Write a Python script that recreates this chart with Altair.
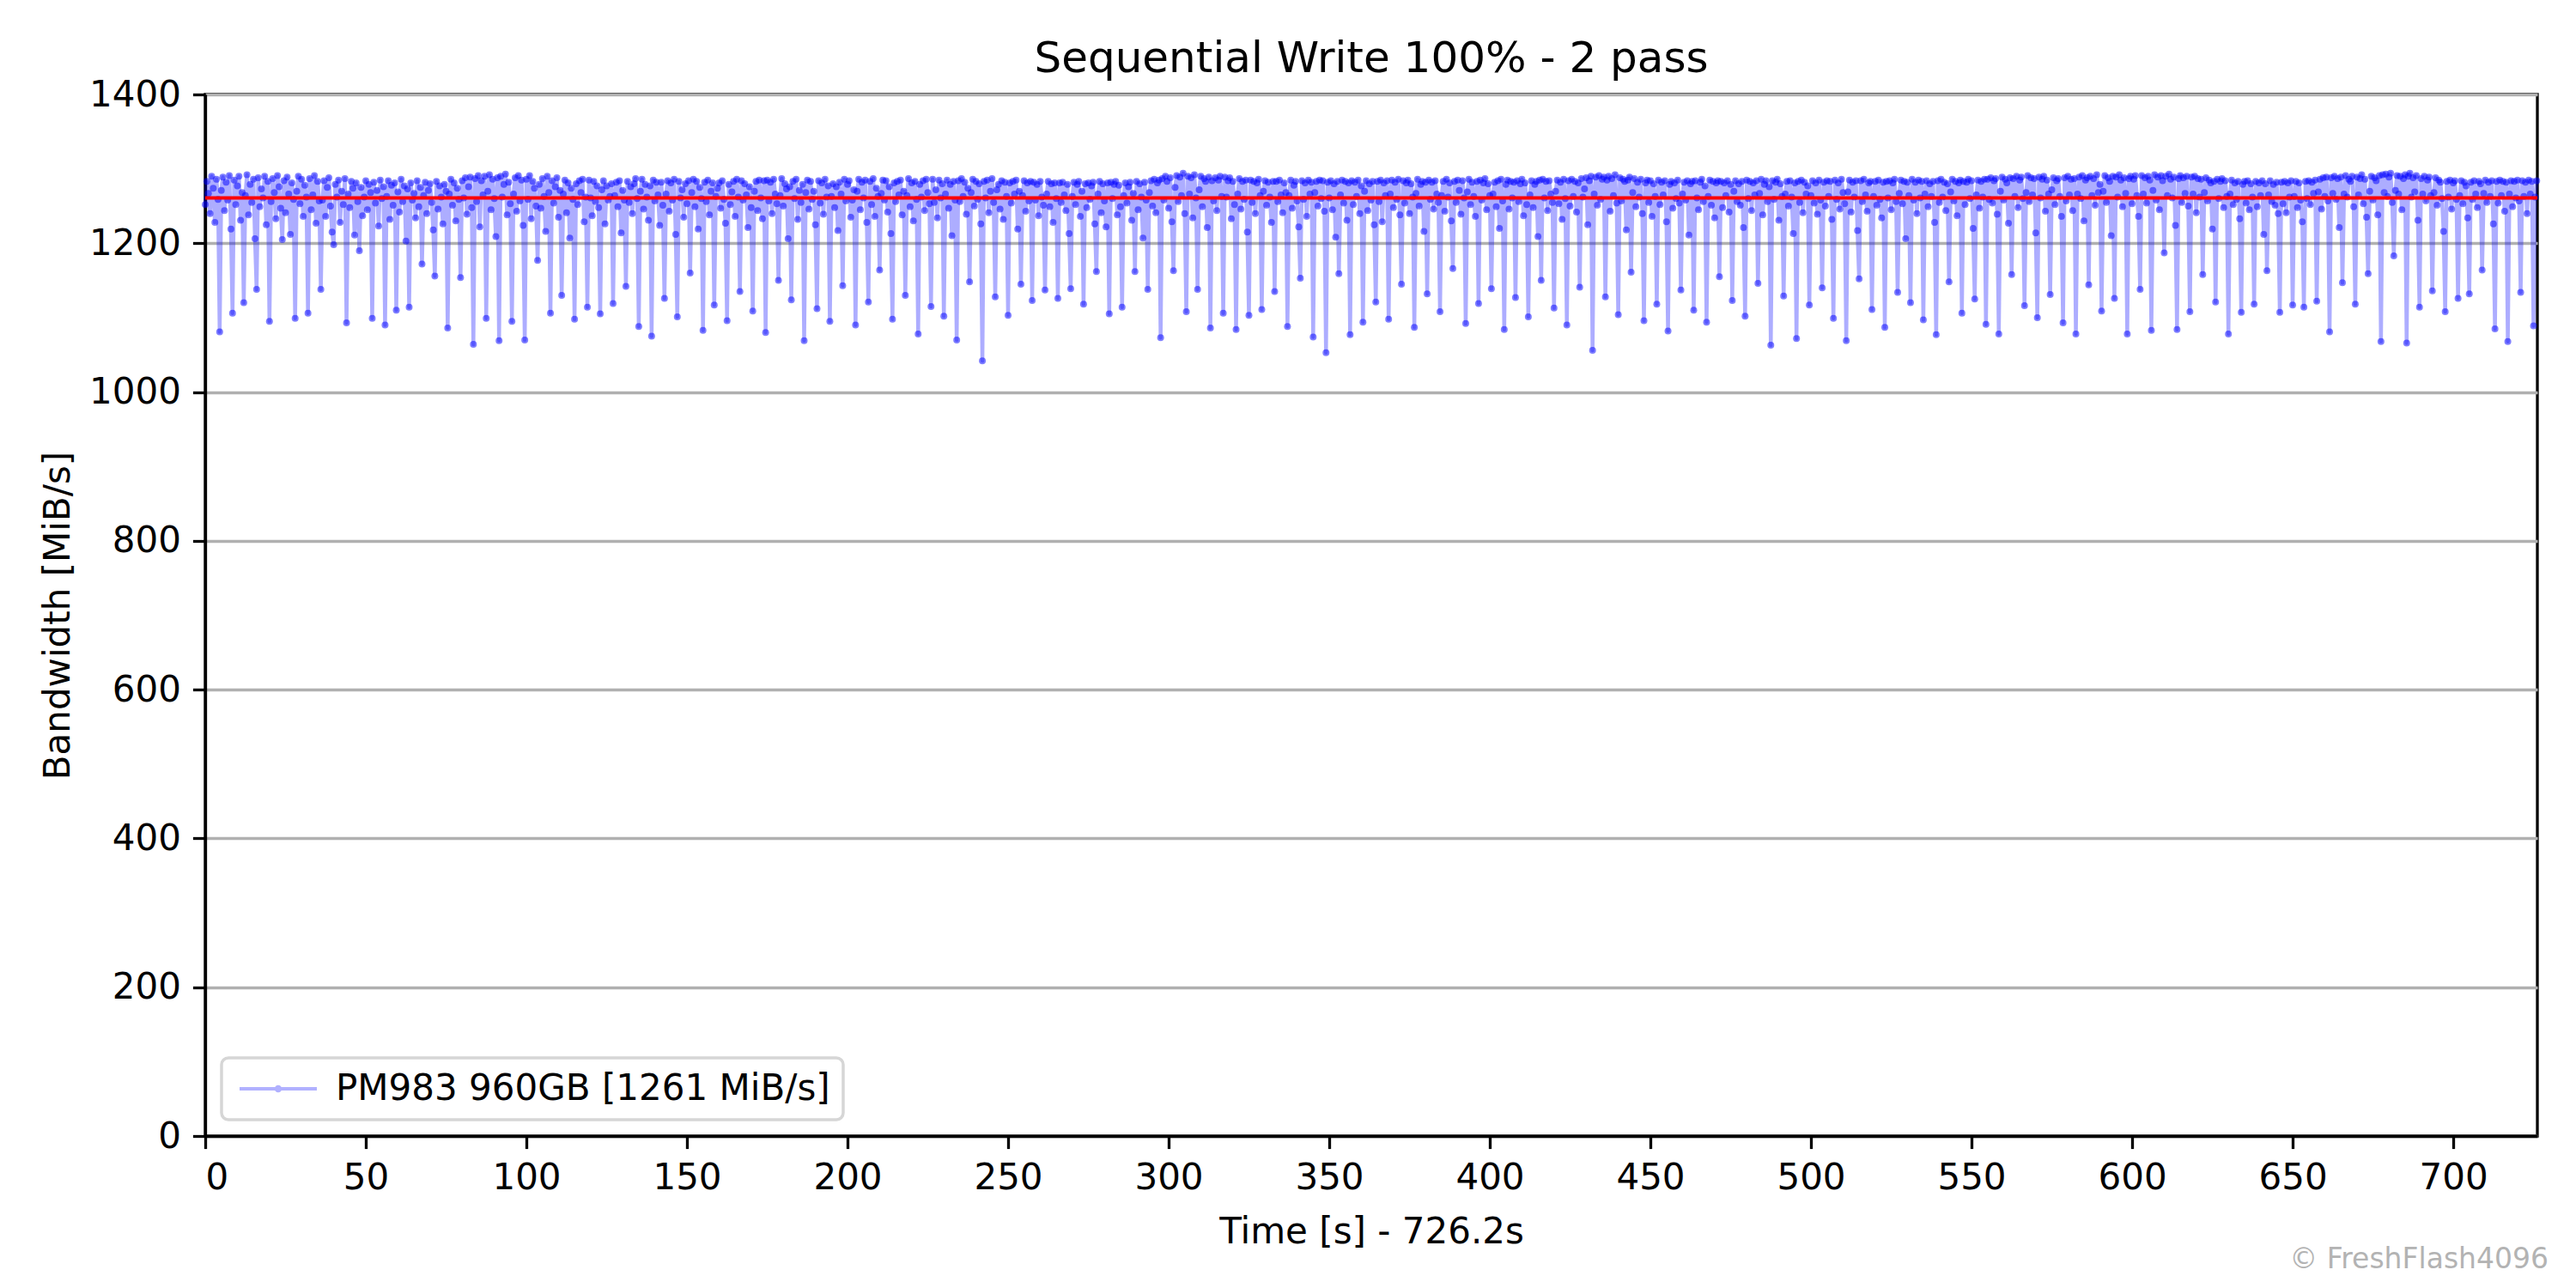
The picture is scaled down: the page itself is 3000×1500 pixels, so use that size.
import altair as alt
import pandas as pd

FONT = "DejaVu Sans"

title_text = "Sequential Write 100% - 2 pass"
x_title = "Time [s] - 726.2s"
y_title = "Bandwidth [MiB/s]"
series_name = "PM983 960GB [1261 MiB/s]"
watermark_text = "\u00a9 FreshFlash4096"
avg_bw = 1261
x_max = 726.2
sample_interval_s = 0.5
x_ticks = [0, 50, 100, 150, 200, 250, 300, 350, 400, 450, 500, 550, 600, 650, 700]
y_ticks = [0, 200, 400, 600, 800, 1000, 1200, 1400]

# bandwidth samples (MiB/s), one every 0.5 s
bw_000_004 = [1252, 1283, 1267, 1240, 1290, 1274, 1228, 1286, 1259]

bw_004_131 = [
    1081, 1271, 1289, 1244, 1282, 1258, 1291, 1219,
    1106, 1285, 1252, 1277, 1290, 1231, 1268,
    1120, 1264, 1292, 1238, 1279, 1255, 1286, 1206,
    1138, 1288, 1249, 1273, 1261, 1290, 1225, 1283,
    1095, 1256, 1287, 1268, 1233, 1291, 1276, 1247,
    1205, 1284, 1241, 1289, 1266, 1212, 1281, 1259,
    1099, 1270, 1290, 1253, 1286, 1236, 1278, 1262,
    1106, 1287, 1245, 1265, 1291, 1227, 1283, 1257,
    1138, 1258, 1284, 1236, 1275, 1288, 1250, 1215,
    1198, 1279, 1262, 1285, 1228, 1270, 1252, 1287,
    1093, 1266, 1248, 1283, 1274, 1211, 1281, 1256,
    1190, 1275, 1237, 1262, 1284, 1245, 1279, 1268,
    1099, 1282, 1254, 1271, 1223, 1285, 1260, 1276,
    1090, 1263, 1284, 1232, 1278, 1251, 1281,
    1110, 1269, 1242, 1286, 1256, 1277, 1203, 1273,
    1114, 1281, 1258, 1267, 1234, 1284, 1249, 1275,
    1172, 1264, 1282, 1240, 1271, 1280, 1255, 1218,
    1156, 1283, 1246, 1277, 1262, 1226, 1279, 1270,
    1086, 1266, 1286, 1251, 1281, 1230, 1274, 1259,
    1154, 1284, 1261, 1288, 1239, 1276, 1289, 1248,
    1064, 1287, 1256, 1291, 1222, 1284, 1265, 1290,
    1099, 1270, 1292, 1245, 1286, 1260, 1209, 1288,
    1069, 1290, 1262, 1279, 1293, 1238, 1282, 1253,
    1095, 1266, 1288, 1243, 1291, 1257, 1285, 1224,
    1070, 1286, 1259, 1291, 1233, 1283, 1274, 1250,
    1177, 1279, 1247, 1287, 1263, 1216, 1290, 1268,
    1106, 1284, 1254, 1276, 1288, 1235, 1271,
    1130, 1266, 1285, 1241, 1281, 1207, 1274, 1259,
    1098, 1280, 1252, 1284, 1268, 1286, 1229, 1262,
    1114, 1285, 1261, 1237, 1283, 1256, 1277, 1248,
    1105, 1272, 1284, 1226, 1277, 1258, 1263, 1280,
    1119, 1264, 1282, 1249, 1284, 1214, 1271, 1258,
]

bw_131_234 = [
    1142, 1283, 1255, 1276, 1240, 1280, 1287, 1260,
    1088, 1270, 1286, 1246, 1279, 1262, 1231, 1277,
    1075, 1285, 1257, 1282, 1265, 1224, 1282, 1251,
    1126, 1266, 1284, 1243, 1281, 1258, 1286, 1212,
    1101, 1283, 1261, 1272, 1235, 1280, 1253, 1284,
    1160, 1268, 1286, 1249, 1283, 1219, 1275, 1260,
    1083, 1282, 1256, 1285, 1238, 1270, 1281,
    1117, 1263, 1274, 1281, 1247, 1284, 1259, 1227,
    1096, 1279, 1252, 1269, 1283, 1236, 1286, 1262,
    1135, 1284, 1258, 1280, 1265, 1221, 1276, 1248,
    1109, 1270, 1283, 1244, 1285, 1261, 1233, 1284,
    1080, 1285, 1257, 1282, 1240, 1286, 1266, 1253,
    1150, 1264, 1287, 1250, 1280, 1273, 1206, 1276,
    1124, 1283, 1260, 1286, 1232, 1271, 1255, 1279,
    1069, 1268, 1285, 1246, 1283, 1259, 1270, 1225,
    1112, 1284, 1254, 1281, 1239, 1286, 1262, 1277,
    1095, 1263, 1280, 1248, 1276, 1217, 1282, 1266,
    1143, 1286, 1257, 1279, 1284, 1235, 1258, 1272,
    1090, 1270, 1286, 1245, 1282, 1261, 1285, 1228,
    1121, 1283, 1252, 1287, 1236, 1274, 1263,
    1164, 1267, 1285, 1258, 1284, 1242, 1276, 1213,
    1098, 1281, 1256, 1283, 1265, 1285, 1238, 1270,
    1130, 1264, 1287, 1249, 1281, 1230, 1283, 1259,
    1078, 1279, 1262, 1284, 1244, 1286, 1268, 1253,
    1115, 1286, 1255, 1272, 1234, 1285, 1261, 1280,
    1102, 1266, 1285, 1247, 1279, 1210, 1283, 1258,
]

bw_234_365 = [
    1070, 1284, 1256, 1287, 1263, 1282, 1239, 1274,
    1148, 1268, 1286, 1250, 1283, 1259, 1280, 1226,
    1042, 1283, 1261, 1285, 1241, 1270, 1287, 1255,
    1128, 1272, 1279, 1246, 1284, 1232, 1282, 1263,
    1103, 1281, 1254, 1283, 1266, 1285, 1219, 1270,
    1145, 1264, 1284, 1243, 1281, 1257, 1283,
    1123, 1282, 1258, 1279, 1237, 1283, 1262, 1251,
    1137, 1266, 1283, 1249, 1280, 1228, 1281, 1260,
    1126, 1281, 1255, 1282, 1265, 1244, 1279, 1213,
    1139, 1263, 1282, 1252, 1279, 1283, 1236, 1270,
    1118, 1280, 1248, 1281, 1259, 1277, 1282, 1226,
    1162, 1266, 1283, 1241, 1280, 1257, 1222, 1281,
    1105, 1282, 1260, 1279, 1283, 1238, 1278, 1249,
    1114, 1264, 1281, 1254, 1276, 1282, 1231, 1267,
    1162, 1283, 1245, 1280, 1262, 1207, 1282, 1258,
    1138, 1268, 1284, 1250, 1286, 1241, 1281, 1285,
    1073, 1287, 1258, 1290, 1283, 1247, 1288, 1229,
    1163, 1275, 1291, 1256, 1289, 1264, 1294, 1240,
    1108, 1290, 1266, 1288, 1234, 1292, 1261,
    1138, 1272, 1290, 1249, 1287, 1283, 1221, 1289,
    1086, 1284, 1257, 1288, 1244, 1285, 1290, 1263,
    1106, 1289, 1262, 1284, 1288, 1233, 1283, 1252,
    1084, 1266, 1287, 1246, 1283, 1259, 1285, 1215,
    1103, 1285, 1255, 1283, 1240, 1281, 1286, 1264,
    1111, 1270, 1284, 1251, 1282, 1262, 1228, 1283,
    1135, 1283, 1256, 1285, 1265, 1241, 1281, 1268,
    1088, 1264, 1285, 1247, 1278, 1283, 1257, 1222,
    1153, 1284, 1259, 1281, 1236, 1285, 1266, 1282,
    1074, 1268, 1283, 1250, 1285, 1260, 1284, 1243,
    1053, 1282, 1261, 1284, 1245, 1280, 1208, 1283,
    1159, 1265, 1285, 1254, 1283, 1231, 1281,
    1077, 1284, 1252, 1282, 1263, 1285, 1240, 1277,
    1094, 1270, 1284, 1244, 1280, 1258, 1283, 1225,
]

bw_365_487 = [
    1121, 1283, 1256, 1285, 1229, 1281, 1264, 1284,
    1098, 1266, 1285, 1248, 1282, 1259, 1286, 1238,
    1145, 1284, 1254, 1281, 1285, 1240, 1280, 1262,
    1087, 1267, 1286, 1250, 1279, 1283, 1216, 1282,
    1132, 1285, 1259, 1282, 1246, 1284, 1266, 1255,
    1108, 1264, 1283, 1243, 1286, 1262, 1281, 1230,
    1166, 1283, 1255, 1285, 1271, 1239, 1284, 1261,
    1092, 1269, 1286, 1252, 1282, 1263, 1236, 1283,
    1119, 1285, 1258, 1281, 1287, 1245, 1280, 1264,
    1139, 1266, 1282, 1249, 1284, 1220, 1286, 1257,
    1084, 1279, 1285, 1246, 1283, 1261, 1282,
    1127, 1284, 1256, 1280, 1286, 1237, 1281, 1252,
    1101, 1265, 1284, 1248, 1279, 1283, 1209, 1285,
    1150, 1286, 1261, 1283, 1244, 1284, 1266, 1255,
    1113, 1270, 1285, 1253, 1282, 1232, 1286, 1260,
    1090, 1284, 1250, 1286, 1263, 1283, 1242, 1281,
    1141, 1287, 1262, 1273, 1288, 1225, 1284, 1290,
    1056, 1266, 1289, 1251, 1291, 1259, 1286, 1289,
    1128, 1285, 1290, 1243, 1287, 1264, 1292, 1254,
    1104, 1288, 1257, 1286, 1283, 1218, 1285, 1289,
    1161, 1268, 1287, 1249, 1282, 1262, 1286, 1240,
    1096, 1281, 1285, 1255, 1284, 1236, 1280, 1263,
    1118, 1285, 1252, 1282, 1265, 1284, 1229,
    1082, 1279, 1283, 1247, 1281, 1260, 1285, 1254,
    1137, 1266, 1282, 1258, 1284, 1211, 1280, 1283,
    1110, 1284, 1261, 1245, 1282, 1286, 1256, 1277,
    1094, 1263, 1285, 1251, 1283, 1234, 1281, 1284,
    1155, 1283, 1248, 1281, 1264, 1284, 1242, 1279,
    1123, 1270, 1284, 1256, 1280, 1251, 1283, 1221,
    1102, 1285, 1260, 1283, 1244, 1281, 1265, 1284,
    1146, 1267, 1286, 1238, 1279, 1284, 1256, 1276,
]

bw_487_606 = [
    1063, 1284, 1259, 1282, 1286, 1231, 1280, 1263,
    1129, 1266, 1283, 1250, 1284, 1262, 1213, 1281,
    1072, 1283, 1255, 1285, 1241, 1282, 1266, 1277,
    1117, 1264, 1284, 1254, 1281, 1239, 1285, 1258,
    1140, 1282, 1250, 1284, 1263, 1283, 1232,
    1099, 1285, 1259, 1281, 1246, 1286, 1268, 1253,
    1069, 1269, 1285, 1242, 1282, 1262, 1284, 1217,
    1152, 1284, 1256, 1286, 1265, 1243, 1281, 1283,
    1111, 1263, 1283, 1251, 1285, 1259, 1234, 1282,
    1087, 1283, 1261, 1284, 1245, 1281, 1286, 1256,
    1134, 1267, 1285, 1253, 1283, 1206, 1282, 1264,
    1120, 1286, 1258, 1282, 1240, 1285, 1261, 1283,
    1097, 1266, 1284, 1249, 1280, 1263, 1283, 1228,
    1077, 1284, 1255, 1286, 1262, 1282, 1244, 1280,
    1148, 1269, 1286, 1257, 1283, 1237, 1281, 1285,
    1106, 1283, 1252, 1282, 1286, 1260, 1284, 1220,
    1125, 1265, 1285, 1247, 1283, 1262, 1286,
    1091, 1286, 1259, 1288, 1254, 1284, 1287, 1239,
    1078, 1270, 1289, 1258, 1286, 1281, 1227, 1288,
    1158, 1287, 1263, 1290, 1248, 1285, 1289, 1260,
    1116, 1268, 1291, 1256, 1288, 1265, 1287, 1214,
    1100, 1289, 1261, 1286, 1290, 1243, 1285, 1266,
    1131, 1272, 1288, 1252, 1284, 1287, 1263, 1236,
    1093, 1288, 1257, 1290, 1265, 1286, 1244, 1287,
    1078, 1266, 1289, 1260, 1291, 1230, 1285, 1288,
    1144, 1290, 1264, 1287, 1251, 1292, 1268, 1279,
    1109, 1270, 1291, 1255, 1288, 1283, 1210, 1290,
    1126, 1289, 1262, 1292, 1285, 1249, 1288, 1267,
    1078, 1287, 1290, 1253, 1286, 1291, 1264, 1236,
    1138, 1291, 1266, 1288, 1254, 1290, 1285,
]

bw_606_726 = [
    1083, 1271, 1292, 1258, 1289, 1245, 1291, 1284,
    1187, 1290, 1264, 1293, 1286, 1261, 1289, 1224,
    1084, 1287, 1291, 1255, 1288, 1267, 1290, 1250,
    1108, 1289, 1266, 1290, 1241, 1287, 1262, 1286,
    1158, 1268, 1288, 1257, 1285, 1281, 1219, 1283,
    1121, 1286, 1260, 1283, 1287, 1248, 1284, 1263,
    1078, 1266, 1285, 1252, 1281, 1259, 1283, 1233,
    1107, 1279, 1283, 1254, 1284, 1245, 1280, 1262,
    1118, 1283, 1249, 1281, 1264, 1284, 1212, 1280,
    1163, 1265, 1284, 1256, 1279, 1251, 1282, 1240,
    1107, 1282, 1253, 1283, 1241, 1281, 1262, 1284,
    1117, 1263, 1283, 1248, 1281, 1258, 1229,
    1114, 1283, 1260, 1284, 1252, 1282, 1267, 1285,
    1122, 1269, 1286, 1246, 1288, 1263, 1289, 1257,
    1081, 1288, 1267, 1290, 1259, 1287, 1221, 1289,
    1147, 1266, 1291, 1262, 1286, 1283, 1290, 1249,
    1118, 1289, 1265, 1287, 1292, 1253, 1286, 1235,
    1159, 1270, 1290, 1258, 1288, 1284, 1238, 1291,
    1068, 1292, 1268, 1293, 1263, 1289, 1294, 1255,
    1183, 1271, 1291, 1266, 1290, 1245, 1287, 1292,
    1066, 1290, 1294, 1262, 1288, 1269, 1291, 1231,
    1114, 1287, 1266, 1290, 1257, 1285, 1289, 1264,
    1136, 1268, 1288, 1251, 1285, 1282, 1260, 1216,
    1108, 1283, 1262, 1285, 1246, 1281, 1284, 1259,
    1126, 1264, 1284, 1253, 1282, 1277, 1234,
    1132, 1282, 1259, 1284, 1266, 1248, 1283, 1280,
    1164, 1267, 1285, 1255, 1282, 1263, 1284, 1226,
    1085, 1283, 1254, 1285, 1264, 1283, 1243, 1282,
    1068, 1266, 1284, 1249, 1283, 1261, 1285, 1257,
    1134, 1284, 1263, 1282, 1240, 1285, 1266, 1283,
    1089, 1262, 1284,
]

bandwidth = (bw_000_004 + bw_004_131 + bw_131_234 + bw_234_365
             + bw_365_487 + bw_487_606 + bw_606_726)
times = [i * sample_interval_s for i in range(len(bandwidth))]

df = pd.DataFrame({"time": times, "bw": bandwidth, "series": series_name})
df = df[df["time"] <= x_max]
avg_df = pd.DataFrame({"avg": [avg_bw]})
wm_df = pd.DataFrame({"wm": [watermark_text]})

W, H = 2716, 1213
LW = 3.3

xs = alt.Scale(domain=[0, x_max], nice=False, zero=False)
ys = alt.Scale(domain=[0, 1400], nice=False)

x_axis = alt.Axis(values=x_ticks, title=x_title, grid=False, format="d",
                  labelPadding=14, titlePadding=22)
y_axis = alt.Axis(values=y_ticks, title=y_title, grid=True, format="d",
                  labelPadding=14, titlePadding=14)

legend_path = "M-1,0L5,0M2.15,0A0.15,0.15,0,1,1,1.85,0A0.15,0.15,0,1,1,2.15,0Z"

line = alt.Chart(df).mark_line(
    strokeWidth=4.5, opacity=0.32, strokeJoin="round", strokeCap="square"
).encode(
    x=alt.X("time:Q", scale=xs, axis=x_axis),
    y=alt.Y("bw:Q", scale=ys, axis=y_axis),
    color=alt.Color(
        "series:N",
        scale=alt.Scale(range=["blue"]),
        legend=alt.Legend(
            title=None, orient="bottom-left", offset=19,
            symbolType=legend_path, symbolSize=900, symbolStrokeWidth=4,
            symbolOpacity=0.3, labelOffset=76, labelLimit=2000,
            labelFont=FONT, labelFontSize=42, labelColor="black",
        ),
    ),
)

pts = alt.Chart(df).mark_circle(size=64, opacity=0.5, color="blue").encode(
    x=alt.X("time:Q", scale=xs),
    y=alt.Y("bw:Q", scale=ys),
)

avg_rule = alt.Chart(avg_df).mark_rule(color="red", strokeWidth=4).encode(
    y=alt.Y("avg:Q", scale=ys)
)

wm = alt.Chart(wm_df).mark_text(
    align="right", baseline="alphabetic", font=FONT, fontSize=33, color="#b3b3b3"
).encode(text="wm:N", x=alt.value(2729), y=alt.value(1367))

chart = alt.layer(line, pts, avg_rule, wm).properties(
    width=W,
    height=H,
    title=alt.TitleParams(
        text=title_text, font=FONT, fontSize=50, fontWeight="normal",
        color="black", anchor="middle", frame="group", offset=-5,
    ),
    padding={"left": 231, "top": 102, "right": 35, "bottom": 165},
    autosize=alt.AutoSizeParams(type="none"),
).configure_view(
    stroke="black", strokeWidth=LW
).configure_axis(
    labelFont=FONT, labelFontSize=42, labelColor="black",
    titleFont=FONT, titleFontSize=42, titleFontWeight="normal", titleColor="black",
    domainColor="black", domainWidth=LW,
    tickColor="black", tickWidth=LW, tickSize=14.6,
    gridColor="#b0b0b0", gridWidth=LW, gridOpacity=1,
).configure_legend(
    padding=15, strokeColor="#d6d6d6", strokeWidth=3.5, cornerRadius=8,
    fillColor="rgba(255,255,255,0.8)",
)

chart.save("out.html", embed_options={"renderer": "svg", "actions": False})
